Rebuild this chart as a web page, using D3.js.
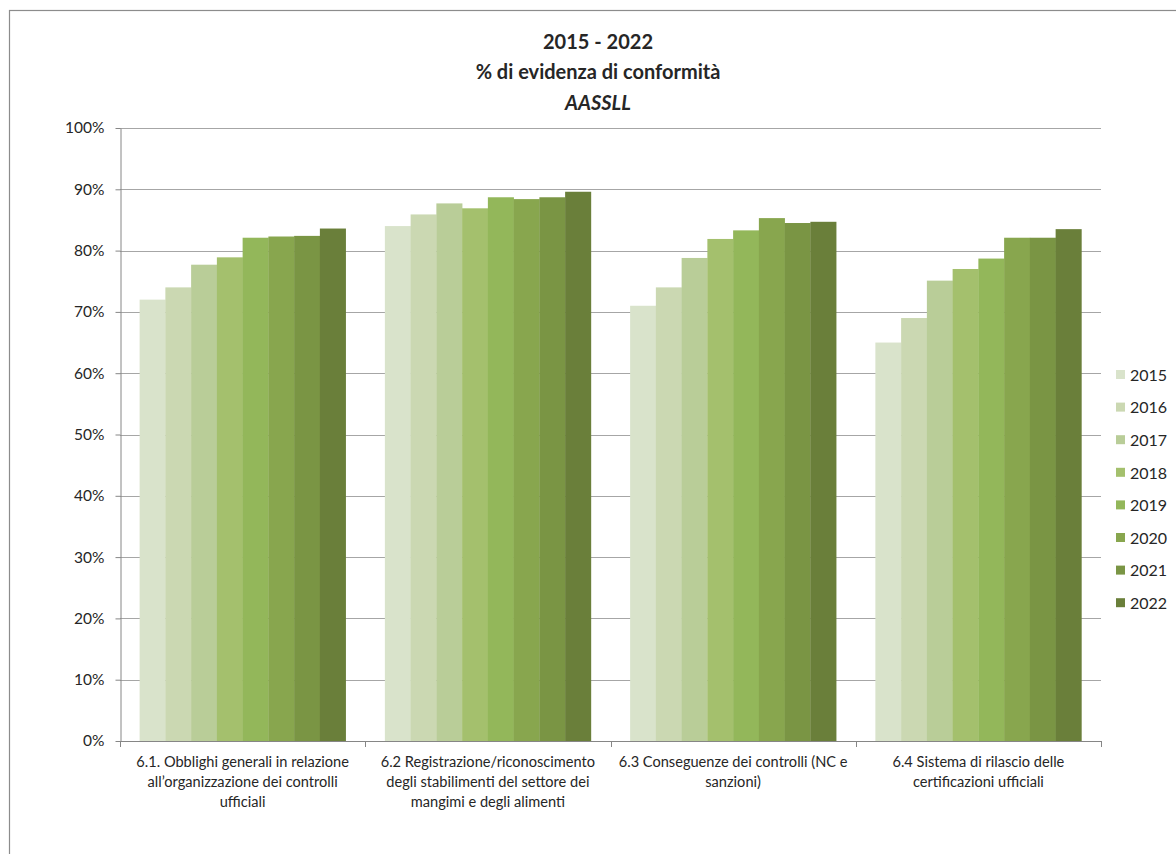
<!DOCTYPE html>
<html>
<head>
<meta charset="utf-8">
<script src="https://cdn.jsdelivr.net/npm/d3@7"></script>
<style>
  html, body { margin: 0; padding: 0; background: #fff; }
  svg text { font-family: Lato, "Open Sans", sans-serif; fill: #262626; }
</style>
</head>
<body>
<svg id="chart" width="1176" height="854"></svg>
<script>
// Categories (x axis, wrapped labels)
const categories = [
  ["6.1. Obblighi generali in relazione", "all\u2019organizzazione dei controlli", "ufficiali"],
  ["6.2 Registrazione/riconoscimento", "degli stabilimenti del settore dei", "mangimi e degli alimenti"],
  ["6.3 Conseguenze dei controlli (NC e", "sanzioni)"],
  ["6.4 Sistema di rilascio delle", "certificazioni ufficiali"]
];
const years = ["2015", "2016", "2017", "2018", "2019", "2020", "2021", "2022"];

// % of conformity per year, one value per category
const v2015 = [72.0, 84.0, 71.0, 65.0];
const v2016 = [74.0, 85.9, 74.0, 69.0];
const v2017 = [77.7, 87.7, 78.8, 75.1];
const v2018 = [78.9, 86.9, 81.9, 77.0];
const v2019 = [82.1, 88.7, 83.3, 78.7];
const v2020 = [82.3, 88.4, 85.3, 82.1];
const v2021 = [82.4, 88.7, 84.5, 82.1];
const v2022 = [83.6, 89.6, 84.7, 83.5];
const seriesValues = [v2015, v2016, v2017, v2018, v2019, v2020, v2021, v2022];

const yTicks = [0, 10, 20, 30, 40, 50, 60, 70, 80, 90, 100];
const colors = ["#d9e3cb", "#cbd8b2", "#b9cd98", "#a4c06d", "#93b75a", "#88a64e", "#7a9544", "#6a7f3a"];

const svg = d3.select("#chart");

// outer chart frame
svg.append("rect")
  .attr("x", 9.5).attr("y", 10.5)
  .attr("width", 1200).attr("height", 900)
  .attr("fill", "none").attr("stroke", "#8c8c8c").attr("stroke-width", 1.2);

const plot = { left: 120, right: 1101, top: 128, bottom: 741 };

const x0 = d3.scaleBand()
  .domain(d3.range(categories.length))
  .range([plot.left, plot.right])
  .paddingInner(0.16)
  .paddingOuter(0.08);
const x1 = d3.scaleBand()
  .domain(d3.range(years.length))
  .range([0, x0.bandwidth()])
  .padding(0);
const y = d3.scaleLinear().domain([0, 100]).range([plot.bottom, plot.top]);

// horizontal gridlines
svg.append("g")
  .selectAll("line")
  .data(yTicks.filter(d => d > 0))
  .join("line")
  .attr("x1", plot.left).attr("x2", plot.right)
  .attr("y1", d => Math.round(y(d)) + 0.5).attr("y2", d => Math.round(y(d)) + 0.5)
  .attr("stroke", "#a6a6a6").attr("stroke-width", 1.2);

// bars
const groups = svg.append("g")
  .selectAll("g")
  .data(categories.map((c, i) => i))
  .join("g")
  .attr("transform", i => `translate(${x0(i)},0)`);

groups.selectAll("rect")
  .data(i => seriesValues.map((s, k) => ({ k, v: s[i] })))
  .join("rect")
  .attr("x", d => x1(d.k))
  .attr("width", x1.bandwidth() + 0.3)
  .attr("y", d => y(d.v))
  .attr("height", d => y(0) - y(d.v))
  .attr("fill", d => colors[d.k]);

// y axis
const yAxis = svg.append("g")
  .attr("transform", `translate(${plot.left + 0.5},0)`)
  .call(d3.axisLeft(y).tickValues(yTicks).tickFormat(d => d + "%").tickSize(5).tickSizeOuter(0));
yAxis.select(".domain").attr("stroke", "#868686");
yAxis.selectAll(".tick line").attr("stroke", "#868686");
yAxis.selectAll(".tick text")
  .attr("x", -16)
  .style("font-size", "15.5px")
  .style("font-family", "Lato, 'Open Sans', sans-serif")
  .attr("fill", "#262626");

// x axis with category boundary ticks
const xAxisG = svg.append("g");
xAxisG.append("line")
  .attr("x1", plot.left).attr("x2", plot.right)
  .attr("y1", plot.bottom + 0.5).attr("y2", plot.bottom + 0.5)
  .attr("stroke", "#868686");
const boundaries = d3.range(categories.length + 1).map(i =>
  i < categories.length ? x0(i) - x0.step() * x0.paddingInner() / 2 : plot.right);
xAxisG.selectAll("line.tk")
  .data(boundaries)
  .join("line")
  .attr("class", "tk")
  .attr("x1", d => Math.round(d) + 0.5).attr("x2", d => Math.round(d) + 0.5)
  .attr("y1", plot.bottom).attr("y2", plot.bottom + 6)
  .attr("stroke", "#868686");

// category labels
svg.append("g")
  .selectAll("text")
  .data(categories.map((c, i) => ({ c, i })))
  .join("text")
  .attr("text-anchor", "middle")
  .style("font-size", "14.6px")
  .each(function(d) {
    const cx = x0(d.i) + x0.bandwidth() / 2;
    d3.select(this).selectAll("tspan")
      .data(d.c)
      .join("tspan")
      .attr("x", cx)
      .attr("y", (t, j) => 767 + j * 20)
      .text(t => t);
  });

// title
const title = svg.append("g").attr("text-anchor", "middle");
title.append("text").attr("x", 598).attr("y", 49)
  .style("font-size", "20px").style("font-weight", "bold").text("2015 - 2022");
title.append("text").attr("x", 598).attr("y", 79)
  .style("font-size", "20px").style("font-weight", "bold").text("% di evidenza di conformità");
title.append("text").attr("x", 598).attr("y", 110)
  .style("font-size", "20px").style("font-weight", "bold").style("font-style", "italic").text("AASSLL");

// legend
const legend = svg.append("g")
  .selectAll("g")
  .data(years)
  .join("g")
  .attr("transform", (d, i) => `translate(1116,${375 + i * 32.6})`);
legend.append("rect")
  .attr("x", 0).attr("y", -5).attr("width", 9).attr("height", 9)
  .attr("fill", (d, i) => colors[i]);
legend.append("text")
  .attr("x", 14).attr("y", 0).attr("dy", "0.36em")
  .style("font-size", "16px")
  .text(d => d);
</script>
</body>
</html>
